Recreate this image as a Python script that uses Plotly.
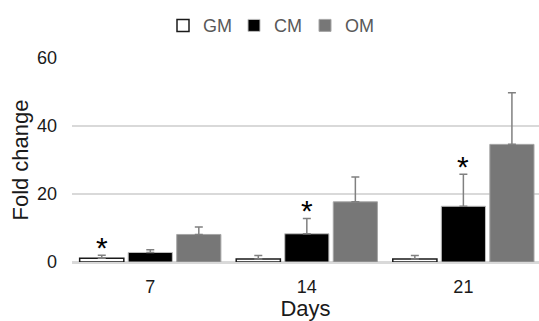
import plotly.graph_objects as go

days = ["7", "14", "21"]
gm = [1.1, 0.9, 0.9]
gm_err = [0.9, 1.0, 1.0]
cm = [2.8, 8.3, 16.4]
cm_err = [0.8, 4.5, 9.4]
om = [8.1, 17.7, 34.6]
om_err = [2.2, 7.3, 15.2]

# significance markers: (day, series)
star_days = ["7", "14", "21"]
star_series = ["GM", "CM", "CM"]

series = {
    "GM": (gm, gm_err),
    "CM": (cm, cm_err),
    "OM": (om, om_err),
}
styles = {
    "GM": dict(color="white", line=dict(color="#1a1a1a", width=1.5)),
    "CM": dict(color="black", line=dict(color="#bfbfbf", width=1)),
    "OM": dict(color="#777777", line=dict(color="#a6a6a6", width=1)),
}

fig = go.Figure()
for name, (vals, errs) in series.items():
    fig.add_trace(go.Bar(
        x=days, y=vals, name=name,
        marker=styles[name],
        error_y=dict(type="data", array=errs, arrayminus=[0] * len(errs),
                     symmetric=False, color="#808080", thickness=1.5, width=4),
    ))

order = list(series.keys())
slot = 48.5
for d, s in zip(star_days, star_series):
    vals, errs = series[s]
    i = days.index(d)
    fig.add_annotation(
        x=i, y=vals[i] + errs[i], xref="x", yref="y",
        text="*", showarrow=False, yanchor="middle",
        xshift=(order.index(s) - 1) * slot, yshift=8,
        font=dict(family="Liberation Sans, Arial", size=30, color="black"),
    )

fig.update_layout(
    width=539, height=321,
    margin=dict(l=72, r=0, t=58, b=59),
    paper_bgcolor="white", plot_bgcolor="white",
    barmode="group", bargap=0.07, bargroupgap=0.09,
    font=dict(family="Liberation Sans, Arial", size=18, color="#1a1a1a"),
    showlegend=True,
    legend=dict(orientation="h", x=0.5, xref="container", xanchor="center",
                y=1 - 25.7 / 321, yref="container", yanchor="middle",
                entrywidth=26, entrywidthmode="pixels",
                font=dict(size=18, color="#595959"), traceorder="normal"),
    xaxis=dict(type="category", range=[-0.5, 2.483], showgrid=False,
               showline=True, linecolor="#d9d9d9", linewidth=1.5, ticks="",
               ticklabelstandoff=8,
               title=dict(text="Days", standoff=6)),
    yaxis=dict(range=[0, 60], dtick=20, showgrid=True, gridcolor="#d9d9d9",
               gridwidth=1.5, zeroline=True, zerolinecolor="#d9d9d9",
               zerolinewidth=1.5, showline=False, ticks="",
               ticklabelstandoff=14,
               title=dict(text="Fold change", standoff=2)),
)
fig.write_html("out.html", config={"displayModeBar": False},
               post_script="document.body.style.margin='0px';")
